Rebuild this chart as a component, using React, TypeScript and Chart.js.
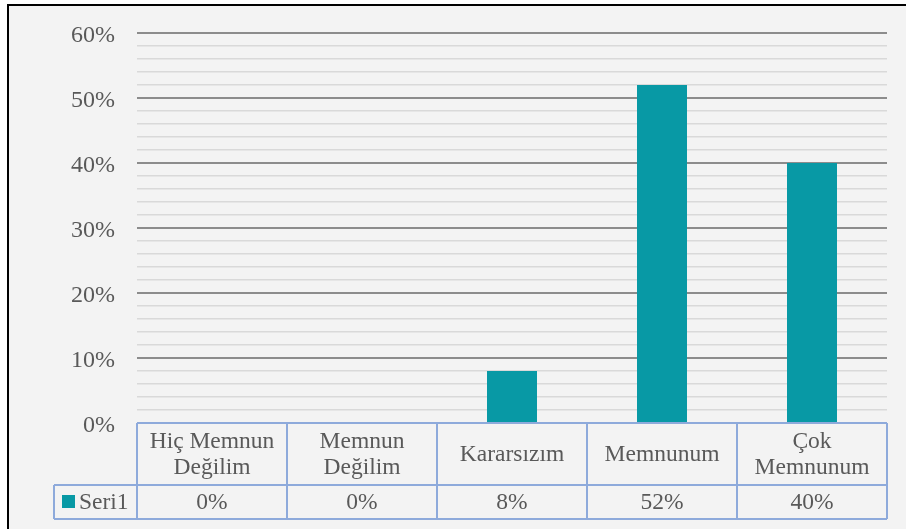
import React, { useEffect, useRef } from "react";
import { Chart, registerables } from "chart.js";

Chart.register(...registerables);

const categories: string[][] = [
  ["Hiç Memnun", "Değilim"],
  ["Memnun", "Değilim"],
  ["Kararsızım"],
  ["Memnunum"],
  ["Çok", "Memnunum"],
];
const seriesName = "Seri1";
const seriesValues: number[] = [0, 0, 8, 52, 40];
const tableLabels: string[] = ["0%", "0%", "8%", "52%", "40%"];
const yMax = 60;
const yMinorStep = 2;
const yMajorStep = 10;

const BAR = "#0899a5";
const BORDER = "#8eaadb";
const TEXT = "#595959";
const FONT = "'Liberation Serif', 'Times New Roman', serif";

const tablePlugin = {
  id: "dataTable",
  afterDraw(chart: any) {
    const { ctx, chartArea, scales } = chart;
    const x = scales.x;
    const n = categories.length;
    const colW = (chartArea.right - chartArea.left) / n;
    const top = chartArea.bottom;
    const row1 = top + 62;
    const row2 = row1 + 34;
    const legendLeft = chartArea.left - 83;
    ctx.save();
    ctx.strokeStyle = BORDER;
    ctx.lineWidth = 2;
    ctx.beginPath();
    ctx.moveTo(chartArea.left, top);
    ctx.lineTo(chartArea.right, top);
    ctx.moveTo(legendLeft, row1);
    ctx.lineTo(chartArea.right, row1);
    ctx.moveTo(legendLeft, row2);
    ctx.lineTo(chartArea.right, row2);
    ctx.moveTo(legendLeft, row1);
    ctx.lineTo(legendLeft, row2);
    for (let i = 0; i <= n; i++) {
      const px = chartArea.left + i * colW;
      ctx.moveTo(px, top);
      ctx.lineTo(px, row2);
    }
    ctx.stroke();

    ctx.fillStyle = TEXT;
    ctx.font = `23.5px ${FONT}`;
    ctx.textAlign = "center";
    ctx.textBaseline = "middle";
    for (let i = 0; i < n; i++) {
      const cx = x.getPixelForValue(i);
      const lines = categories[i];
      const lh = 26;
      const mid = (top + row1) / 2;
      const start = mid - ((lines.length - 1) * lh) / 2;
      lines.forEach((l, k) => ctx.fillText(l, cx, start + k * lh + 1));
      ctx.fillText(tableLabels[i], cx, (row1 + row2) / 2 + 1);
    }
    ctx.fillStyle = BAR;
    ctx.fillRect(legendLeft + 8, (row1 + row2) / 2 - 7, 13, 13);
    ctx.fillStyle = TEXT;
    ctx.textAlign = "left";
    ctx.fillText(seriesName, legendLeft + 25, (row1 + row2) / 2 + 1);
    ctx.restore();
  },
};

export default function App() {
  const ref = useRef<HTMLCanvasElement | null>(null);
  useEffect(() => {
    if (!ref.current) return;
    const chart = new Chart(ref.current, {
      type: "bar",
      data: {
        labels: categories.map((c) => c.join(" ")),
        datasets: [
          {
            label: seriesName,
            data: seriesValues,
            backgroundColor: BAR,
            barPercentage: 1 / 3,
            categoryPercentage: 1,
          },
        ],
      },
      options: {
        animation: false,
        responsive: false,
        events: [],
        layout: { padding: { left: 0, right: 19, top: 27, bottom: 106 } },
        plugins: {
          legend: { display: false },
          tooltip: { enabled: false },
          title: { display: false },
        },
        scales: {
          x: { display: false },
          y: {
            min: 0,
            max: yMax,
            afterFit: (s: any) => {
              s.width = 128;
              s.paddingTop = 0;
              s.paddingBottom = 0;
            },
            border: { display: false },
            grid: {
              drawTicks: false,
              color: (c: any) =>
                c.tick && c.tick.value % yMajorStep === 0 ? "#8c8c8c" : "#d9d9d9",
              lineWidth: (c: any) =>
                c.tick && c.tick.value % yMajorStep === 0 ? 2 : 1.5,
            },
            ticks: {
              stepSize: yMinorStep,
              autoSkip: false,
              padding: 22,
              labelOffset: 3,
              color: TEXT,
              font: { family: FONT, size: 24 },
              callback: (v: any) => (Number(v) % yMajorStep === 0 ? `${v}%` : ""),
            },
          },
        },
      },
      plugins: [tablePlugin],
    });
    return () => chart.destroy();
  }, []);

  return (
    <div style={{ position: "fixed", left: 0, top: 0, width: 906, height: 529, background: "#ffffff", overflow: "hidden" }}>
      <div
        style={{
          position: "absolute",
          left: 7,
          top: 4,
          width: 899,
          height: 525,
          boxSizing: "border-box",
          borderLeft: "2px solid #000",
          borderTop: "2px solid #000",
          background: "#f3f3f3",
        }}
      />
      <canvas
        ref={ref}
        width={897}
        height={523}
        style={{ position: "absolute", left: 9, top: 6, width: 897, height: 523 }}
      />
    </div>
  );
}
